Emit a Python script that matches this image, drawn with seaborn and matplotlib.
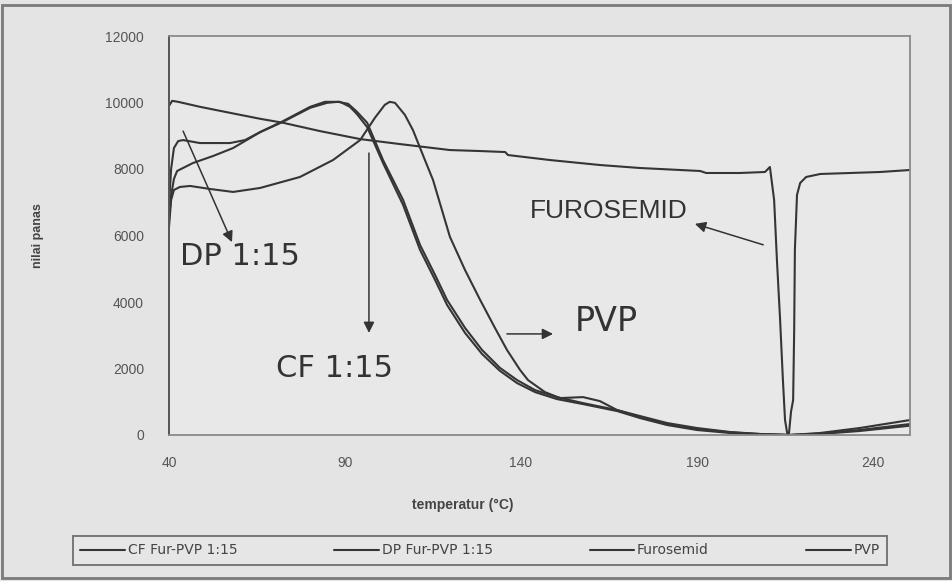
import numpy as np
import pandas as pd
import matplotlib
matplotlib.use("Agg")
import matplotlib.pyplot as plt
import seaborn as sns
from matplotlib.lines import Line2D
from matplotlib.patches import Rectangle

# ---------------- data ----------------
series_names = ["CF Fur-PVP 1:15", "DP Fur-PVP 1:15", "Furosemid", "PVP"]

cf_temp = [40.0, 40.6, 41.4, 42.3, 46.8, 52.5, 58.2, 65.9, 72.4, 80.1, 84.3, 88.6, 91.4, 93.4,
           96.3, 100.8, 106.5, 111.3, 115.6, 119.0, 124.1, 128.9, 134.0, 138.9, 144.0, 150.2,
           157.6, 167.3, 173.8, 181.5, 190.0, 199.4, 207.9, 216.4, 224.9, 236.2, 250.5]
cf_val = [6500, 7200, 7700, 7940, 8180, 8390, 8630, 9110, 9440, 9870, 10020, 10020, 9870, 9650,
          9260, 8180, 6920, 5570, 4660, 3910, 3070, 2440, 1930, 1560, 1290, 1080,
          930, 720, 510, 300, 150, 60, 20, 0, 30, 120, 280]

dp_temp = [40.0, 40.6, 41.4, 42.6, 44.0, 48.8, 57.3, 61.6, 65.9, 72.4, 80.1, 84.9, 88.0, 90.9,
           93.4, 96.3, 100.8, 106.5, 111.3, 115.6, 119.0, 124.1, 128.9, 134.0, 138.9, 144.0,
           150.2, 157.6, 167.3, 173.8, 181.5, 190.0, 199.4, 207.9, 216.4, 224.9, 236.2, 250.5]
dp_val = [6900, 8000, 8630, 8840, 8870, 8780, 8780, 8870, 9110, 9420, 9840, 9990, 10020, 9960,
          9720, 9390, 8270, 7070, 5720, 4810, 4060, 3220, 2560, 2020, 1650, 1350,
          1140, 960, 750, 540, 330, 180, 80, 30, 0, 45, 150, 330]

fur_temp = [40.0, 40.9, 42.6, 48.8, 57.3, 65.9, 72.4, 82.9, 94.3, 105.6, 119.8, 128.4, 135.5,
            136.3, 148.2, 162.4, 173.8, 190.9, 192.6, 202.2, 209.3, 210.7, 211.9, 212.7, 213.6,
            214.4, 215.0, 215.6, 216.1, 216.7, 217.3, 217.6, 217.8, 218.4, 219.3, 221.0, 225.0,
            233.5, 242.0, 250.5]
fur_val = [9900, 10050, 10020, 9870, 9690, 9510, 9390, 9140, 8900, 8750, 8570, 8540, 8510,
           8420, 8270, 8120, 8030, 7940, 7880, 7880, 7910, 8060, 7070, 5260, 3460,
           1650, 450, 60, 30, 700, 1050, 3160, 5570, 7220, 7580, 7760, 7850,
           7880, 7910, 7970]

pvp_temp = [40.0, 40.6, 41.4, 43.1, 46.0, 51.6, 58.2, 65.9, 77.2, 86.6, 94.3, 98.5, 101.3,
            102.7, 104.2, 107.0, 109.3, 112.7, 115.0, 119.8, 124.1, 128.4, 132.6, 136.0, 139.7,
            142.0, 146.8, 151.1, 157.6, 162.4, 167.3, 173.8, 181.5, 190.0, 199.4, 207.9, 216.4,
            224.9, 236.2, 250.5]
pvp_val = [6250, 7070, 7370, 7460, 7490, 7400, 7310, 7430, 7760, 8270, 8870, 9540, 9930,
           10020, 9990, 9630, 9170, 8270, 7670, 5960, 4960, 4060, 3220, 2560, 1960,
           1650, 1290, 1110, 1140, 1020, 750, 570, 360, 210, 90, 30, 0,
           60, 210, 450]

x_ticks = [40, 90, 140, 190, 240]
y_ticks = [0, 2000, 4000, 6000, 8000, 10000, 12000]
x_label = "temperatur (°C)"
y_label = "nilai panas"

# ---------------- build long-form table ----------------
frames = []
for name, t, v in zip(series_names, [cf_temp, dp_temp, fur_temp, pvp_temp],
                      [cf_val, dp_val, fur_val, pvp_val]):
    frames.append(pd.DataFrame({"temp": t, "val": v, "series": name}))
df = pd.concat(frames, ignore_index=True)

# ---------------- style ----------------
sns.set_theme(style="white")
plt.rcParams["font.family"] = ["Liberation Sans", "DejaVu Sans"]

W, H = 953, 581
fig = plt.figure(figsize=(W / 100, H / 100), dpi=100, facecolor="#e4e4e4")
ax = fig.add_axes([169 / W, 1 - 435 / H, 741 / W, 399 / H])
ax.set_facecolor("#e8e8e8")

line_col = "#353535"
palette = {n: line_col for n in series_names}
sns.lineplot(data=df, x="temp", y="val", hue="series", palette=palette,
             estimator=None, sort=False, legend=False, linewidth=1.5, ax=ax)

ax.set_xlim(40, 250.5)
ax.set_ylim(0, 12000)
ax.set_xticks(x_ticks)
ax.set_xticklabels([str(t) for t in x_ticks])
ax.set_yticks(y_ticks)
ax.set_yticklabels([str(t) for t in y_ticks])

for side, sp in ax.spines.items():
    sp.set_visible(True)
    sp.set_color("#8a8a8a")
    sp.set_linewidth(1.3)
ax.spines["left"].set_color("#555555")
ax.spines["left"].set_linewidth(1.4)

ax.tick_params(axis="y", direction="out", length=5, width=1, color="#555555",
               pad=13, labelsize=10, labelcolor="#555555")
ax.tick_params(axis="x", direction="out", length=4, width=1, color="#777777",
               pad=11, labelsize=10, labelcolor="#555555")

ax.set_xlabel(x_label, fontsize=10, fontweight="bold", color="#444444")
ax.xaxis.set_label_coords((463 - 169) / 741, (435 - 498) / 399)
ax.set_ylabel(y_label, fontsize=9, fontweight="bold", color="#444444", rotation=90)
ax.yaxis.set_label_coords((44 - 169) / 741, 0.5)

# ---------------- annotations ----------------
txt_col = "#333333"
ax.text(43.1, 5380, "DP 1:15", fontsize=22, family="DejaVu Sans", color=txt_col,
        ha="left", va="center")
ax.text(70.4, 2010, "CF 1:15", fontsize=22, family="DejaVu Sans", color=txt_col,
        ha="left", va="center")
ax.text(155.3, 3400, "PVP", fontsize=24, family="DejaVu Sans", color=txt_col,
        ha="left", va="center")
ax.text(142.6, 6740, "FUROSEMID", fontsize=19, color=txt_col, ha="left", va="center")

arrow_kw = dict(arrowstyle="-|>", color="#333333", lw=1.1, mutation_scale=16,
                shrinkA=0, shrinkB=0)
ax.annotate("", xy=(57.9, 5800), xytext=(44.0, 9140), arrowprops=arrow_kw)
ax.annotate("", xy=(96.8, 3070), xytext=(96.8, 8480), arrowprops=arrow_kw)
ax.annotate("", xy=(149.1, 3040), xytext=(136.0, 3040), arrowprops=arrow_kw)
ax.annotate("", xy=(189.4, 6350), xytext=(208.8, 5720), arrowprops=arrow_kw)

# ---------------- legend ----------------
handles = [Line2D([0], [0], color=line_col, lw=1.5) for _ in series_names]
leg = fig.legend(handles, series_names, loc="center",
                 bbox_to_anchor=(480 / W, 1 - 550.5 / H), ncol=4,
                 frameon=True, fancybox=False, edgecolor="#777777",
                 facecolor="#e6e6e6", framealpha=1, handlelength=3.2,
                 handletextpad=0.2, columnspacing=7.0, borderpad=0.55,
                 prop={"family": "DejaVu Sans", "size": 10})
leg.get_frame().set_linewidth(1.4)
for t in leg.get_texts():
    t.set_color("#444444")

# outer frame
fig.patches.append(Rectangle((2 / W, 1 - 578 / H), 948 / W, 573 / H,
                             transform=fig.transFigure, fill=False,
                             edgecolor="#7a7a7a", lw=2))

fig.savefig("out.png", dpi=100, facecolor=fig.get_facecolor())
